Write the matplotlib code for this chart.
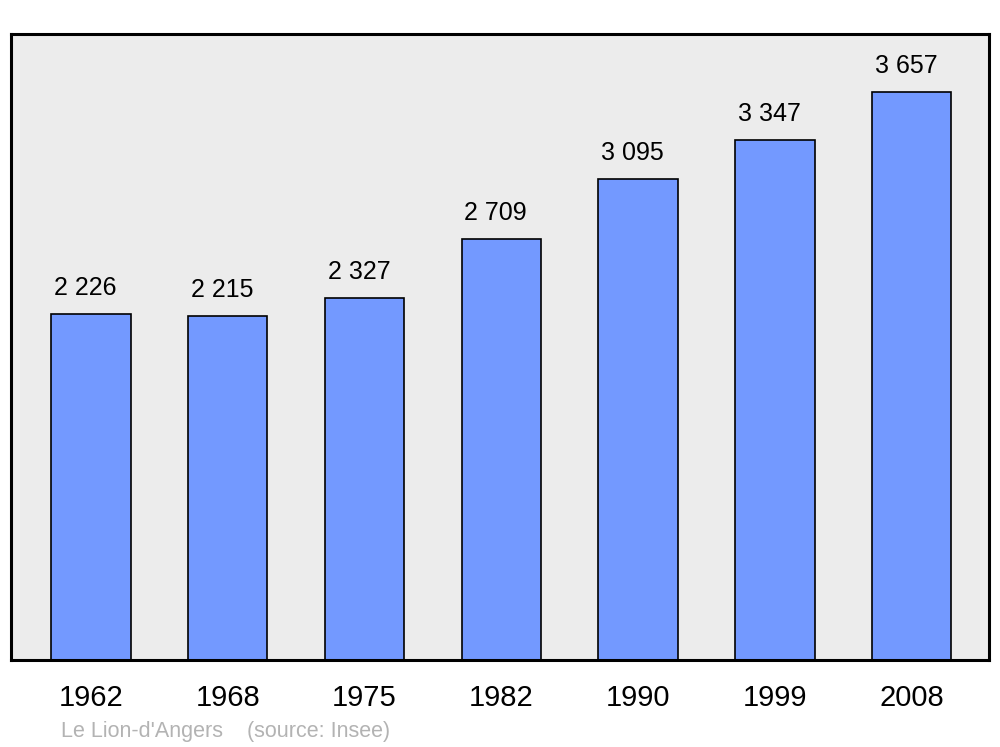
import matplotlib as mpl
mpl.use('Agg')
import matplotlib.pyplot as plt

years = ['1962', '1968', '1975', '1982', '1990', '1999', '2008']
population = [2226, 2215, 2327, 2709, 3095, 3347, 3657]
labels = ['2 226', '2 215', '2 327', '2 709', '3 095', '3 347', '3 657']

plt.rcParams['font.family'] = ['Liberation Sans', 'DejaVu Sans']

fig = plt.figure(figsize=(10, 7.47), dpi=100)
ax = fig.add_axes([0.011, 0.1165, 0.978, 0.838])
ax.set_facecolor('#ececec')

xs = list(range(len(years)))
bars = ax.bar(xs, population, width=0.58, color='#7399ff',
              edgecolor='black', linewidth=1.2, zorder=2)

for x, v, lab in zip(xs, population, labels):
    ax.annotate(lab, (x, v), xytext=(-4, 10), textcoords='offset points',
                ha='center', va='bottom', fontsize=18)

ax.set_xlim(-0.585, 6.565)
ax.set_ylim(0, 4028)
ax.set_yticks([])
ax.set_xticks(xs)
ax.set_xticklabels(years, fontsize=21)
ax.tick_params(axis='x', length=0, pad=17.5)

for s in ax.spines.values():
    s.set_linewidth(2.2)
    s.set_color('black')

fig.text(0.061, 1 - 732 / 747, "Le Lion-d'Angers    (source: Insee)",
         color='#b3b3b3', fontsize=15.5, va='center', ha='left')

fig.savefig('out.png', dpi=100)
